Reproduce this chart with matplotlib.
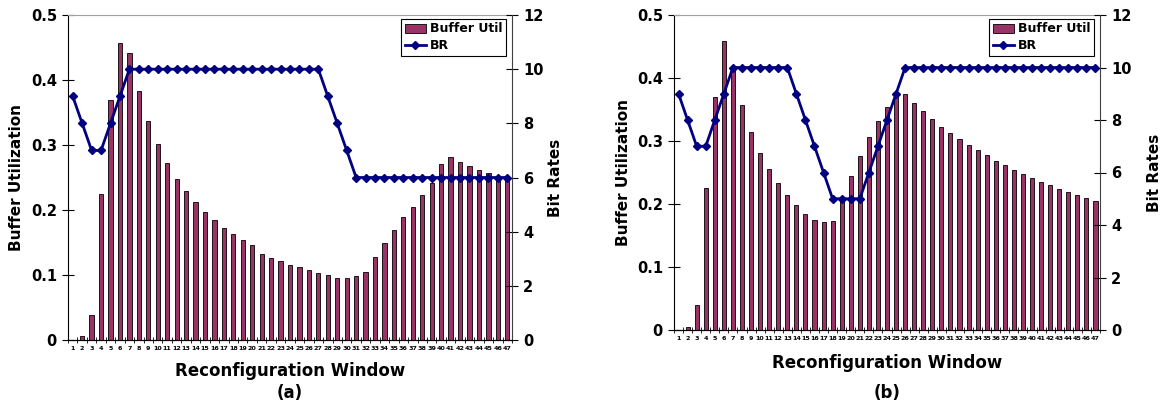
import matplotlib
matplotlib.use("Agg")
import matplotlib.pyplot as plt
import numpy as np
from matplotlib.ticker import FixedLocator, NullFormatter

windows = list(range(1, 48))

buf_a = [0.0, 0.006, 0.039, 0.224, 0.369, 0.457, 0.442, 0.383, 0.337, 0.301,
         0.272, 0.248, 0.229, 0.212, 0.197, 0.184, 0.173, 0.163, 0.154, 0.146,
         0.133, 0.126, 0.121, 0.116, 0.112, 0.107, 0.103, 0.100, 0.096, 0.095,
         0.099, 0.104, 0.127, 0.150, 0.170, 0.190, 0.205, 0.223, 0.242, 0.271,
         0.281, 0.274, 0.268, 0.262, 0.257, 0.252, 0.250]
br_a = [9, 8, 7, 7, 8, 9] + [10] * 21 + [9, 8, 7] + [6] * 17

buf_b = [0.0, 0.005, 0.039, 0.225, 0.370, 0.458, 0.412, 0.357, 0.315, 0.281,
         0.255, 0.233, 0.214, 0.198, 0.184, 0.175, 0.171, 0.173, 0.207, 0.244,
         0.276, 0.306, 0.331, 0.354, 0.370, 0.374, 0.360, 0.347, 0.335, 0.323,
         0.313, 0.303, 0.293, 0.285, 0.277, 0.269, 0.262, 0.254, 0.248, 0.241,
         0.235, 0.230, 0.224, 0.219, 0.214, 0.210, 0.205]
br_b = [9, 8, 7, 7, 8, 9] + [10] * 7 + [9, 8, 7, 6, 5, 5, 5, 5, 6, 7, 8, 9] + [10] * 22

left_ticks = [0, 0.1, 0.2, 0.3, 0.4, 0.5]
left_labels = ["0", "0.1", "0.2", "0.3", "0.4", "0.5"]
right_ticks = [0, 2, 4, 6, 8, 10, 12]

BAR_COLOR = "#993366"
LINE_COLOR = "#000080"

fig = plt.figure(figsize=(11.64, 4.13), dpi=100)

def panel(rect, buf, br, caption, caption_y, xlabel_pad, right_pad, left_pad):
    ax = fig.add_axes(rect)
    x = np.array(windows)
    ax.bar(x, buf, width=0.45, color=BAR_COLOR, edgecolor="black", linewidth=0.6,
           label="Buffer Util", zorder=2)
    ax.set_xlim(0.5, len(windows) + 0.5)
    ax.set_ylim(0, 0.5)
    ax.set_yticks(left_ticks)
    ax.set_yticklabels(left_labels, fontsize=10.5, fontweight="bold")
    ax.tick_params(axis="y", direction="inout", length=8, width=0.8, pad=4)
    ax.set_xticks(x)
    ax.set_xticklabels([str(v) for v in windows], fontsize=4.6, fontweight="bold")
    ax.tick_params(axis="x", which="major", length=0, pad=4)
    ax.xaxis.set_minor_locator(FixedLocator(np.arange(0.5, len(windows) + 1, 1.0)))
    ax.xaxis.set_minor_formatter(NullFormatter())
    ax.tick_params(axis="x", which="minor", direction="inout", length=4, width=0.6)
    ax.spines["top"].set_color("#a0a0a0")
    ax.spines["right"].set_visible(False)
    ax.set_ylabel("Buffer Utilization", fontsize=11, fontweight="bold", labelpad=left_pad)
    ax.set_xlabel("Reconfiguration Window", fontsize=12, fontweight="bold", labelpad=xlabel_pad)

    ax2 = ax.twinx()
    ax2.plot(x, br, color=LINE_COLOR, linewidth=2, marker="D", markersize=4.5,
             label="BR", zorder=3)
    ax2.set_ylim(0, 12)
    ax2.set_yticks(right_ticks)
    ax2.set_yticklabels([str(t) for t in right_ticks], fontsize=10.5, fontweight="bold")
    ax2.tick_params(axis="y", direction="inout", length=8, width=0.8, pad=4)
    ax2.spines["top"].set_visible(False)
    ax2.spines["left"].set_visible(False)
    ax2.spines["right"].set_color("#404040")
    ax2.set_ylabel("Bit Rates", fontsize=11, fontweight="bold", labelpad=right_pad)

    h1, l1 = ax.get_legend_handles_labels()
    h2, l2 = ax2.get_legend_handles_labels()
    leg = ax2.legend(h1 + h2, l1 + l2, loc="upper right", bbox_to_anchor=(0.995, 1.0),
                     prop={"weight": "bold", "size": 9}, frameon=True, fancybox=False,
                     edgecolor="black", framealpha=1, borderpad=0.3, labelspacing=0.3,
                     handlelength=1.7, handletextpad=0.3, borderaxespad=0.3)
    leg.get_frame().set_linewidth(0.8)
    fig.text(rect[0] + rect[2] / 2, caption_y, caption, ha="center", va="center",
             fontsize=12, fontweight="bold")
    return ax, ax2

panel([68 / 1164, (413 - 340) / 413, 444 / 1164, 325 / 413], buf_a, br_a,
      "(a)", 1 - 393 / 413, 8, 3, 5)
panel([674 / 1164, (413 - 330) / 413, 426 / 1164, 315 / 413], buf_b, br_b,
      "(b)", 1 - 393 / 413, 10, 11, 4)

fig.savefig("out.png", dpi=100)
